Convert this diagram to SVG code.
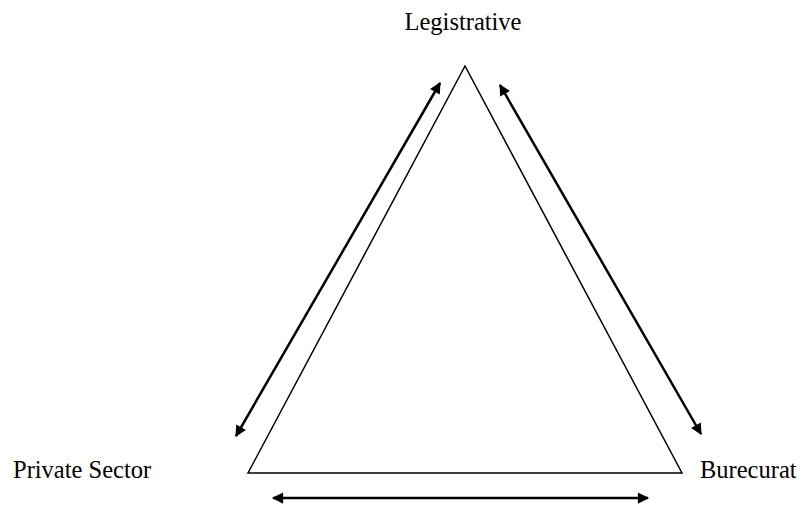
<svg xmlns="http://www.w3.org/2000/svg" width="801" height="507" viewBox="0 0 801 507">
<style>
.lbl{font-family:'Times New Roman','Liberation Serif',serif;font-size:24.5px;fill:#000}
.arr{stroke:#000;stroke-width:2.5;fill:none;marker-start:url(#ah);marker-end:url(#ah)}
</style>
<defs>
<marker id="ah" viewBox="0 0 10 10" refX="9" refY="5" markerWidth="5" markerHeight="4.5" orient="auto-start-reverse" markerUnits="strokeWidth">
<path d="M0,0 L10,5 L0,10 z" fill="#000"/>
</marker>
</defs>
<rect width="801" height="507" fill="#fff"/>
<g id="triangle">
<polygon points="465,66 248,473 682,473" fill="none" stroke="#000" stroke-width="1.5"/>
</g>
<g id="legislative"><text class="lbl" x="463" y="30" text-anchor="middle">Legistrative</text></g>
<g id="private"><text class="lbl" x="13" y="478">Private Sector</text></g>
<g id="burecurat"><text class="lbl" x="700" y="478">Burecurat</text></g>
<g id="connectors">
<line class="arr" x1="440" y1="83" x2="236" y2="436"/>
<line class="arr" x1="500" y1="85" x2="701" y2="434"/>
<line class="arr" x1="273" y1="498" x2="648" y2="498"/>
</g>
</svg>
